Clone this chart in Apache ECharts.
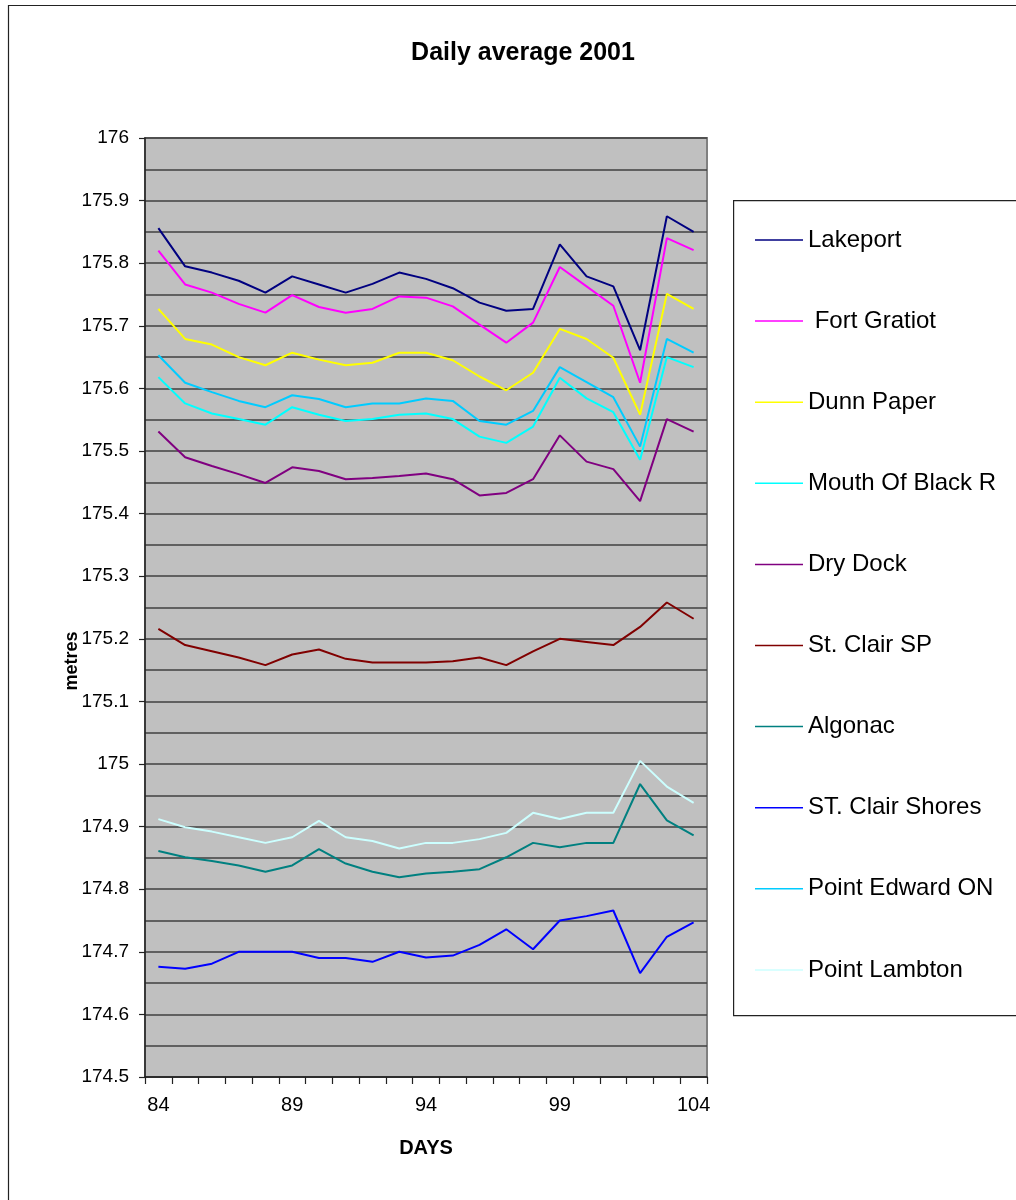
<!DOCTYPE html>
<html>
<head>
<meta charset="utf-8">
<title>Daily average 2001</title>
<script src="https://cdn.jsdelivr.net/npm/echarts@6/dist/echarts.min.js"></script>
<style>
  html, body { margin: 0; padding: 0; background: #ffffff; }
  #chart { width: 1016px; height: 1200px; }
</style>
</head>
<body>
<div id="chart"></div>
<script>
// Day numbers along the horizontal axis
const days = ['84','85','86','87','88','89','90','91','92','93','94',
              '95','96','97','98','99','100','101','102','103','104'];
const dayLabels = ['84', '89', '94', '99', '104'];

// Vertical scale (metres)
const yMin = 174.5;
const yMax = 176;
const yStep = 0.1;

// Daily average water levels (metres) per gauge
const lakeport = [175.856, 175.795, 175.785, 175.772, 175.753, 175.779, 175.766, 175.753, 175.767, 175.785, 175.775,
                  175.760, 175.737, 175.724, 175.727, 175.830, 175.779, 175.763, 175.661, 175.875, 175.850];
const fortGratiot = [175.820, 175.766, 175.753, 175.735, 175.721, 175.749, 175.730, 175.721, 175.727, 175.747, 175.745,
                     175.731, 175.702, 175.673, 175.705, 175.794, 175.763, 175.732, 175.609, 175.840, 175.821];
const dunnPaper = [175.727, 175.679, 175.670, 175.650, 175.637, 175.657, 175.646, 175.637, 175.641, 175.657, 175.657,
                   175.645, 175.619, 175.597, 175.625, 175.695, 175.679, 175.649, 175.558, 175.751, 175.727];
const mouthBlackR = [175.618, 175.576, 175.560, 175.551, 175.542, 175.570, 175.558, 175.548, 175.551, 175.558, 175.560,
                     175.551, 175.523, 175.513, 175.539, 175.617, 175.584, 175.562, 175.486, 175.650, 175.634];
const dryDock = [175.531, 175.490, 175.476, 175.463, 175.449, 175.474, 175.468, 175.455, 175.457, 175.460, 175.464,
                 175.455, 175.429, 175.433, 175.455, 175.525, 175.483, 175.471, 175.420, 175.551, 175.531];
const stClairSP = [175.216, 175.190, 175.180, 175.170, 175.158, 175.175, 175.183, 175.168, 175.162, 175.162, 175.162,
                   175.164, 175.170, 175.158, 175.180, 175.200, 175.195, 175.190, 175.219, 175.258, 175.232];
const algonac = [174.861, 174.851, 174.845, 174.838, 174.828, 174.838, 174.864, 174.841, 174.828, 174.819, 174.825,
                 174.828, 174.832, 174.851, 174.874, 174.867, 174.874, 174.874, 174.968, 174.910, 174.886];
const stClairShores = [174.676, 174.673, 174.681, 174.700, 174.700, 174.700, 174.690, 174.690, 174.684, 174.700, 174.691,
                       174.694, 174.711, 174.736, 174.704, 174.750, 174.757, 174.766, 174.666, 174.724, 174.747];
const pointEdward = [175.653, 175.609, 175.594, 175.580, 175.570, 175.589, 175.583, 175.570, 175.576, 175.576, 175.584,
                     175.580, 175.548, 175.542, 175.564, 175.634, 175.610, 175.586, 175.507, 175.679, 175.657];
const pointLambton = [174.912, 174.899, 174.892, 174.883, 174.874, 174.883, 174.909, 174.883, 174.877, 174.865, 174.874,
                      174.874, 174.880, 174.890, 174.922, 174.912, 174.922, 174.922, 175.005, 174.964, 174.938];

const stations = [
  { name: 'Lakeport',          data: lakeport,      color: '#000080' },
  { name: ' Fort Gratiot',     data: fortGratiot,   color: '#ff00ff' },
  { name: 'Dunn Paper',        data: dunnPaper,     color: '#ffff00' },
  { name: 'Mouth Of Black R',  data: mouthBlackR,   color: '#00ffff' },
  { name: 'Dry Dock',          data: dryDock,       color: '#800080' },
  { name: 'St. Clair SP',      data: stClairSP,     color: '#800000' },
  { name: 'Algonac',           data: algonac,       color: '#008080' },
  { name: 'ST. Clair Shores',  data: stClairShores, color: '#0000ff' },
  { name: 'Point Edward ON',   data: pointEdward,   color: '#00ccff' },
  { name: 'Point Lambton',     data: pointLambton,  color: '#ccffff' }
];

const FONT = "Arial, 'Liberation Sans', sans-serif";

const chart = echarts.init(document.getElementById('chart'), null, { renderer: 'canvas' });

chart.setOption({
  animation: false,
  backgroundColor: '#ffffff',
  title: {
    text: 'Daily average 2001',
    left: 518,
    top: 36,
    textAlign: 'center',
    textStyle: { fontFamily: FONT, fontSize: 25, fontWeight: 'bold', color: '#000' }
  },
  graphic: [
    // outer chart frame
    { type: 'rect', left: 6, top: 3, z: -10, silent: true,
      shape: { x: 0, y: 0, width: 1040, height: 1230 },
      style: { fill: 'none', stroke: '#222', lineWidth: 1.2 } },
    // legend frame
    { type: 'rect', left: 733, top: 200, z: -5, silent: true,
      shape: { x: 0, y: 0, width: 320, height: 815 },
      style: { fill: '#ffffff', stroke: '#222', lineWidth: 1.2 } },
    // vertical axis title
    { type: 'text', x: 72, y: 661, rotation: Math.PI / 2, z: 20,
      style: { text: 'metres', font: "bold 18px Arial, 'Liberation Sans', sans-serif",
               fill: '#000', align: 'center', verticalAlign: 'middle' } }
  ],
  legend: {
    orient: 'vertical',
    left: 755,
    top: 228,
    padding: 0,
    itemWidth: 48,
    itemHeight: 24,
    itemGap: 57.1,
    icon: 'path://M0,11.25 L48,11.25 L48,12.75 L0,12.75 Z',
    textStyle: { fontFamily: FONT, fontSize: 24, color: '#000', lineHeight: 24 },
    data: stations.map(s => s.name)
  },
  grid: {
    left: 145, right: 309, top: 138, bottom: 123,
    show: true,
    backgroundColor: '#c0c0c0',
    borderColor: '#808080',
    borderWidth: 2
  },
  xAxis: {
    type: 'category',
    data: days,
    boundaryGap: true,
    name: 'DAYS',
    nameLocation: 'middle',
    nameGap: 61,
    nameTextStyle: { fontFamily: FONT, fontSize: 20, fontWeight: 'bold', color: '#000' },
    axisLine: { show: true, lineStyle: { color: '#222', width: 1.5 } },
    axisTick: { show: true, interval: 0, length: 7, lineStyle: { color: '#222', width: 1.2 } },
    axisLabel: {
      interval: (i, v) => dayLabels.includes(v),
      margin: 18,
      fontFamily: FONT, fontSize: 20, color: '#000'
    },
    splitLine: { show: false }
  },
  yAxis: {
    type: 'value',
    min: yMin,
    max: yMax,
    interval: yStep,
    axisLine: { show: true, lineStyle: { color: '#222', width: 1.5 } },
    axisTick: { show: true, length: 6, lineStyle: { color: '#222', width: 1.2 } },
    axisLabel: { margin: 16, fontFamily: FONT, fontSize: 19, color: '#000' },
    splitLine: { show: true, lineStyle: { color: '#404040', width: 1.5 } },
    minorTick: { show: false, splitNumber: 2 },
    minorSplitLine: { show: true, lineStyle: { color: '#404040', width: 1.5 } }
  },
  series: stations.map(s => ({
    name: s.name,
    type: 'line',
    data: s.data,
    symbol: 'none',
    smooth: false,
    color: s.color,
    lineStyle: { color: s.color, width: 2 },
    emphasis: { disabled: true }
  }))
});
</script>
</body>
</html>
